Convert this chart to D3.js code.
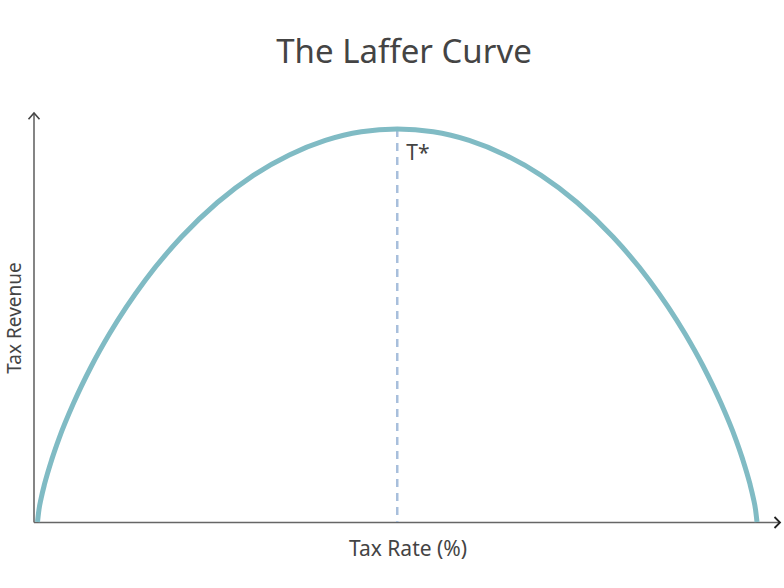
<!DOCTYPE html>
<html>
<head>
<meta charset="utf-8">
<script src="https://cdn.jsdelivr.net/npm/d3@7"></script>
<style>
  html, body { margin: 0; padding: 0; background: #fff; }
  svg { display: block; }
  text { font-family: "Noto Sans", "Open Sans", sans-serif; }
</style>
</head>
<body>
<div id="chart"></div>
<script>
// ---- Data ----
const title = "The Laffer Curve";
const xLabel = "Tax Rate (%)";
const yLabel = "Tax Revenue";
const peakLabel = "T*";
// Tax rate (%) along the curve
const taxRate = [0, 0.2, 0.5, 1, 2, 3, 5, 7.5, 10, 15, 20, 25, 30, 35, 40, 45, 50,
                 55, 60, 65, 70, 75, 80, 85, 90, 92.5, 95, 97, 98, 99, 99.5, 99.8, 100];
// Tax revenue (% of maximum)
const taxRevenue = [0, 3.1, 6.0, 9.8, 16.0, 21.3, 30.2, 39.7, 47.9, 61.6, 72.5, 81.3, 88.2, 93.4, 97.1, 99.3, 100,
                    99.3, 97.1, 93.4, 88.2, 81.3, 72.5, 61.6, 47.9, 39.7, 30.2, 21.3, 16.0, 9.8, 6.0, 3.1, 0];
const peakRate = 50;

// ---- Layout ----
const W = 784, H = 588;
const svg = d3.select("#chart").append("svg").attr("width", W).attr("height", H);

const x = d3.scaleLinear().domain([0, 100]).range([37.5, 757]);
const y = d3.scaleLinear().domain([0, 100]).range([522, 129]);

const axisX0 = 34, axisXEnd = 780, axisYEnd = 113, axisY0 = 522.5;

// Axes
svg.append("line").attr("x1", axisX0).attr("y1", axisY0).attr("x2", axisXEnd - 1).attr("y2", axisY0)
  .attr("stroke", "#666").attr("stroke-width", 1.6);
svg.append("line").attr("x1", axisX0).attr("y1", axisY0).attr("x2", axisX0).attr("y2", axisYEnd + 1)
  .attr("stroke", "#666").attr("stroke-width", 1.6);
// Arrowheads
svg.append("path")
  .attr("d", `M${axisX0 - 5.5},${axisYEnd + 6.3}L${axisX0},${axisYEnd}L${axisX0 + 5.5},${axisYEnd + 6.3}`)
  .attr("fill", "none").attr("stroke", "#444").attr("stroke-width", 1.6);
svg.append("path")
  .attr("d", `M${axisXEnd - 5.5},${axisY0 - 5.5}L${axisXEnd},${axisY0}L${axisXEnd - 5.5},${axisY0 + 5.5}`)
  .attr("fill", "none").attr("stroke", "#222").attr("stroke-width", 1.8);

// Dashed line at T*
svg.append("line")
  .attr("x1", x(peakRate)).attr("x2", x(peakRate))
  .attr("y1", y(100)).attr("y2", y(0))
  .attr("stroke", "#a8bfdc").attr("stroke-width", 2.5)
  .attr("stroke-dasharray", "8,6");

// Curve
const pts = taxRate.map((r, i) => [r, taxRevenue[i]]);
const line = d3.line().x(d => x(d[0])).y(d => y(d[1])).curve(d3.curveMonotoneX);
svg.append("path").datum(pts).attr("d", line)
  .attr("fill", "none").attr("stroke", "#80bbc4").attr("stroke-width", 5)
  .attr("stroke-linecap", "butt");

// Texts
svg.append("text").attr("x", 404).attr("y", 63).attr("text-anchor", "middle")
  .attr("font-size", 33).attr("fill", "#444").text(title);
svg.append("text").attr("x", 408).attr("y", 556).attr("text-anchor", "middle")
  .attr("font-size", 21).attr("fill", "#444").text(xLabel);
svg.append("text").attr("transform", "translate(21,318) rotate(-90)").attr("text-anchor", "middle")
  .attr("font-size", 19).attr("fill", "#444").text(yLabel);
svg.append("text").attr("x", x(peakRate) + 9).attr("y", 160)
  .attr("font-size", 21).attr("fill", "#444").text(peakLabel);
</script>
</body>
</html>
